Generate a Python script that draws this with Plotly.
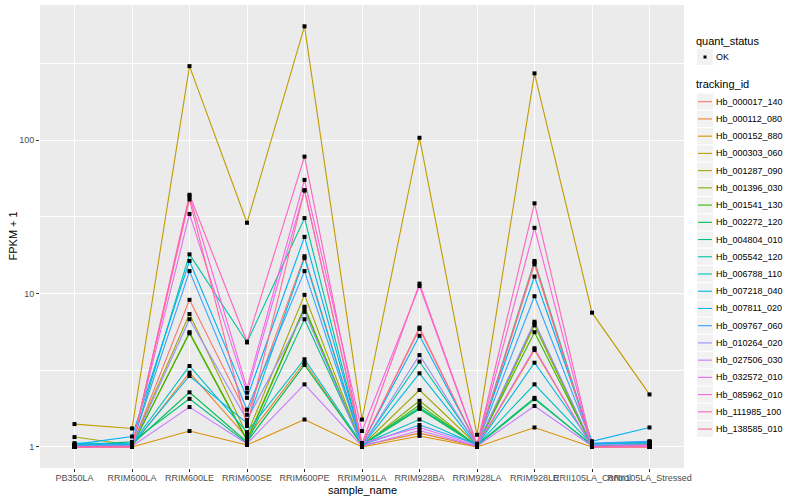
import plotly.graph_objects as go

samples = ["PB350LA", "RRIM600LA", "RRIM600LE", "RRIM600SE", "RRIM600PE", "RRIM901LA",
           "RRIM928BA", "RRIM928LA", "RRIM928LE", "RRII105LA_Control", "RRII105LA_Stressed"]

tracking_ids = ["Hb_000017_140", "Hb_000112_080", "Hb_000152_880", "Hb_000303_060",
                "Hb_001287_090", "Hb_001396_030", "Hb_001541_130", "Hb_002272_120",
                "Hb_004804_010", "Hb_005542_120", "Hb_006788_110", "Hb_007218_040",
                "Hb_007811_020", "Hb_009767_060", "Hb_010264_020", "Hb_027506_030",
                "Hb_032572_010", "Hb_085962_010", "Hb_111985_100", "Hb_138585_010"]

colors = ["#F8766D", "#EA8331", "#D89000", "#C09B00", "#A3A500", "#7CAE00", "#39B600",
          "#00BB4E", "#00BF7D", "#00C1A3", "#00BFC4", "#00BAE0", "#00B0F6", "#35A2FF",
          "#9590FF", "#C77CFF", "#E76BF3", "#FA62DB", "#FF62BC", "#FF6C91"]

quant_status = ["OK"]

# FPKM + 1 per sample (order of `samples`)
hb_000017_140 = [1.01, 1.02, 9.1, 1.62, 17.5, 1.03, 6.0, 1.02, 15.5, 1.01, 1.02]
hb_000112_080 = [1.0, 1.01, 3.05, 1.15, 3.56, 1.02, 1.23, 1.01, 4.28, 1.0, 1.03]
hb_000152_880 = [1.0, 1.0, 1.27, 1.03, 1.51, 1.0, 1.18, 1.0, 1.34, 1.0, 1.0]
hb_000303_060 = [1.41, 1.32, 303, 28.9, 551, 1.51, 103.5, 1.2, 272, 7.5, 2.2]
hb_001287_090 = [1.16, 1.03, 7.35, 1.2, 9.8, 1.02, 2.35, 1.03, 6.4, 1.02, 1.06]
hb_001396_030 = [1.02, 1.01, 5.6, 1.12, 8.2, 1.01, 2.0, 1.01, 6.2, 1.01, 1.05]
hb_001541_130 = [1.01, 1.02, 5.5, 1.1, 8.0, 1.02, 1.88, 1.02, 5.6, 1.02, 1.04]
hb_002272_120 = [1.02, 1.04, 2.27, 1.08, 3.42, 1.03, 1.77, 1.02, 2.05, 1.03, 1.05]
hb_004804_010 = [1.03, 1.08, 2.06, 1.06, 6.8, 1.04, 1.81, 1.03, 2.09, 1.02, 1.07]
hb_005542_120 = [1.02, 1.03, 18.0, 4.8, 31.0, 1.03, 3.6, 1.04, 16.3, 1.03, 1.06]
hb_006788_110 = [1.06, 1.05, 3.37, 1.25, 3.73, 1.04, 1.51, 1.03, 2.56, 1.04, 1.08]
hb_007218_040 = [1.03, 1.04, 2.9, 1.43, 17.0, 1.02, 3.02, 1.02, 3.54, 1.05, 1.08]
hb_007811_020 = [1.04, 1.17, 16.3, 2.09, 23.4, 1.05, 5.3, 1.05, 12.9, 1.09, 1.34]
hb_009767_060 = [1.02, 1.05, 14.0, 1.75, 14.0, 1.03, 1.39, 1.04, 9.6, 1.06, 1.09]
hb_010264_020 = [1.01, 1.02, 6.8, 1.5, 7.6, 1.02, 3.97, 1.02, 6.55, 1.03, 1.05]
hb_027506_030 = [1.0, 1.01, 1.82, 1.05, 2.56, 1.01, 1.28, 1.01, 1.85, 1.01, 1.03]
hb_032572_010 = [1.0, 1.01, 33.0, 2.26, 47.0, 1.06, 1.34, 1.02, 4.4, 1.0, 1.02]
hb_085962_010 = [1.0, 1.0, 43.0, 2.42, 55.0, 1.27, 11.2, 1.03, 26.8, 1.0, 1.01]
hb_111985_100 = [1.0, 1.0, 44.0, 4.85, 78.0, 1.05, 11.6, 1.04, 38.7, 1.0, 1.0]
hb_138585_010 = [1.0, 1.0, 41.0, 1.37, 47.0, 1.04, 5.87, 1.03, 16.0, 1.0, 1.0]

series = [hb_000017_140, hb_000112_080, hb_000152_880, hb_000303_060, hb_001287_090,
          hb_001396_030, hb_001541_130, hb_002272_120, hb_004804_010, hb_005542_120,
          hb_006788_110, hb_007218_040, hb_007811_020, hb_009767_060, hb_010264_020,
          hb_027506_030, hb_032572_010, hb_085962_010, hb_111985_100, hb_138585_010]

FONT = "Liberation Sans, Arial, sans-serif"
W, H = 800, 500
ML, MR, MT, MB = 40, 116, 5, 32
PW, PH = W - ML - MR, H - MT - MB


def px(x):
    return (x - ML) / PW


def py(y):
    return (H - MB - y) / PH


fig = go.Figure()
for i, (name, vals) in enumerate(zip(tracking_ids, series)):
    fig.add_trace(go.Scatter(
        x=samples, y=vals, mode="lines", name=name,
        line=dict(color=colors[i], width=1.1), showlegend=False,
    ))

all_x = [s for vals in series for s in samples]
all_y = [v for vals in series for v in vals]
fig.add_trace(go.Scatter(
    x=all_x, y=all_y, mode="markers", name=quant_status[0],
    marker=dict(symbol="square", size=4, color="black"), showlegend=False,
))

# Legend drawn ggplot-style
shapes = []
annotations = []


def add_text(x, y, text, size, **kw):
    d = dict(xref="paper", yref="paper", x=px(x), y=py(y), text=text,
             showarrow=False, xanchor="left", yanchor="middle",
             font=dict(family=FONT, size=size, color="black"), borderpad=0)
    d.update(kw)
    annotations.append(d)


add_text(695, 41, "quant_status", 11)
shapes.append(dict(type="rect", xref="paper", yref="paper", x0=px(697), x1=px(713),
                   y0=py(65), y1=py(49), fillcolor="#F2F2F2", line=dict(width=0),
                   layer="below"))
shapes.append(dict(type="rect", xref="paper", yref="paper", x0=px(703.5), x1=px(706.5),
                   y0=py(58.5), y1=py(55.5), fillcolor="black", line=dict(width=0)))
add_text(715, 57, quant_status[0], 9)

add_text(695, 84.5, "tracking_id", 11)
for i, name in enumerate(tracking_ids):
    c = 101.7 + 17.23 * i
    shapes.append(dict(type="rect", xref="paper", yref="paper", x0=px(697), x1=px(713),
                       y0=py(c + 8), y1=py(c - 8), fillcolor="#F2F2F2",
                       line=dict(width=0), layer="below"))
    shapes.append(dict(type="line", xref="paper", yref="paper", x0=px(698), x1=px(712),
                       y0=py(c), y1=py(c), line=dict(color=colors[i], width=1.1)))
    add_text(715, c, name, 9)

# axis titles
add_text(362, 490, "sample_name", 11, xanchor="center")
add_text(12, 236.5, "FPKM + 1", 11, xanchor="center", textangle=-90)

fig.update_layout(
    width=W, height=H,
    margin=dict(l=ML, r=MR, t=MT, b=MB),
    paper_bgcolor="white", plot_bgcolor="#EBEBEB",
    font=dict(family=FONT, size=9, color="black"),
    showlegend=False,
    shapes=shapes, annotations=annotations,
    xaxis=dict(
        type="category", categoryorder="array", categoryarray=samples,
        range=[-0.6, len(samples) - 0.4],
        showgrid=True, gridcolor="white", gridwidth=1.1,
        ticks="outside", ticklen=3, tickcolor="#333333", tickangle=0,
        ticklabelstandoff=-2,
        tickfont=dict(size=9, color="#4D4D4D"),
        zeroline=False, showline=False, automargin=False,
    ),
    yaxis=dict(
        type="log", range=[-0.137, 2.88],
        tickvals=[1, 10, 100], ticktext=["1", "10", "100"],
        showgrid=True, gridcolor="white", gridwidth=1.1,
        minor=dict(tickvals=[3.1623, 31.623, 316.23], showgrid=True,
                   gridcolor="white", gridwidth=0.5, ticks=""),
        ticks="outside", ticklen=3, tickcolor="#333333",
        tickfont=dict(size=9, color="#4D4D4D"),
        zeroline=False, showline=False, automargin=False,
    ),
)

fig.write_html("out.html", config={"displayModeBar": False},
               post_script="document.body.style.margin='0';")
